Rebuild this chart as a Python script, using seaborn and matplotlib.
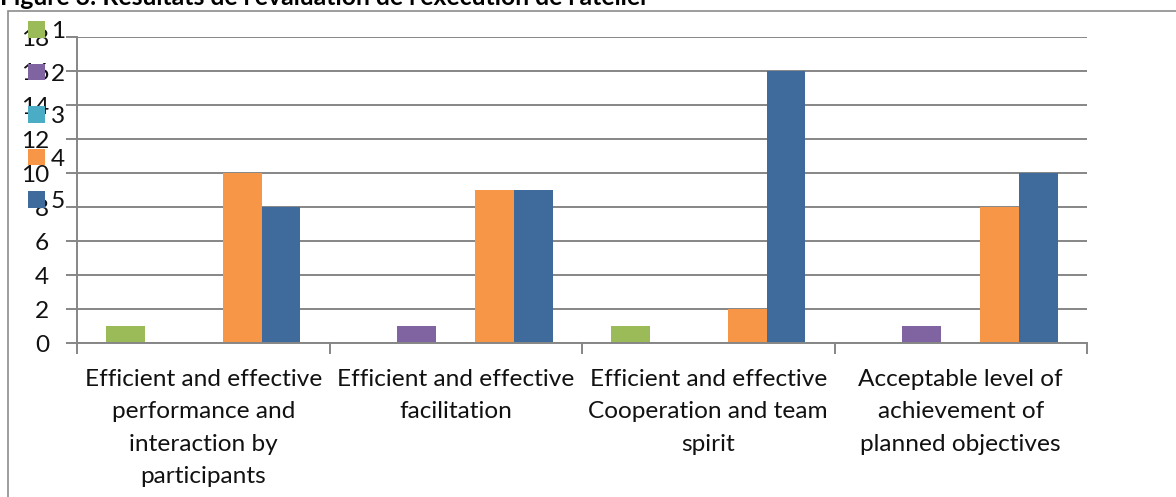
import matplotlib
matplotlib.use("Agg")
import matplotlib.pyplot as plt
import seaborn as sns
import pandas as pd
from matplotlib.patches import Patch, Rectangle

categories = [
    "Efficient and effective\nperformance and\ninteraction by\nparticipants",
    "Efficient and effective\nfacilitation",
    "Efficient and effective\nCooperation and team\nspirit",
    "Acceptable level of\nachievement of\nplanned objectives",
]
series_names = ["1", "2", "3", "4", "5"]
s1 = [1, 0, 1, 0]
s2 = [0, 1, 0, 1]
s3 = [0, 0, 0, 0]
s4 = [10, 9, 2, 8]
s5 = [8, 9, 16, 10]
colors = ["#9BBB59", "#8064A2", "#4BACC6", "#F79646", "#3E6A9C"]
title = "Figure 3: Résultats de l'évaluation de l'exécution de l'atelier"
yticks = [0, 2, 4, 6, 8, 10, 12, 14, 16, 18]

rows = []
for name, vals in zip(series_names, [s1, s2, s3, s4, s5]):
    for c, v in zip(categories, vals):
        rows.append({"cat": c, "series": name, "value": v})
df = pd.DataFrame(rows)

sns.set_theme(style="white")
plt.rcParams["font.family"] = ["Lato", "DejaVu Sans"]

W, H = 1176, 497
FS = 17.6
fig = plt.figure(figsize=(W / 100, H / 100), dpi=100)
ax = fig.add_axes([77 / W, 1 - 343 / H, (1087 - 77) / W, (343 - 37) / H])

sns.barplot(data=df, x="cat", y="value", hue="series", order=categories,
            hue_order=series_names, palette=colors, width=0.77,
            saturation=1, linewidth=0, ax=ax, legend=False)

grid_c = "#868686"
ax.set_ylim(0, 18)
ax.set_xlim(-0.5, 3.5)
ax.set_yticks(yticks)
ax.set_yticklabels([str(t) for t in yticks])
ax.yaxis.grid(True, color=grid_c, linewidth=1.4)
ax.set_axisbelow(True)
ax.set_xlabel("")
ax.set_ylabel("")

ax.set_xticks([-0.5, 0.5, 1.5, 2.5, 3.5])
ax.set_xticklabels([])
ax.set_xticks([0, 1, 2, 3], minor=True)
ax.set_xticklabels(categories, minor=True, fontsize=FS, linespacing=1.68, color="#111111")
ax.tick_params(axis="x", which="major", length=8, width=1.4, color=grid_c, direction="out", bottom=True)
ax.tick_params(axis="x", which="minor", length=0, pad=18.4, bottom=True)
ax.tick_params(axis="y", length=8, width=1.4, color=grid_c, direction="out", left=True,
               labelsize=FS, pad=12, labelcolor="#111111")

for s in ["top", "right"]:
    ax.spines[s].set_visible(False)
for s in ["left", "bottom"]:
    ax.spines[s].set_color(grid_c)
    ax.spines[s].set_linewidth(1.4)

# outer frame
fig.patches.append(Rectangle((8 / W, -0.05), 1.2, 1 - 11 / H + 0.05,
                             transform=fig.transFigure, fill=False,
                             edgecolor="#8C8C8C", linewidth=1.2))

fig.text(0.0, 1 - 5 / H, title, fontsize=17.8, fontweight="bold",
         va="baseline", ha="left", color="black")

handles = [Patch(facecolor=c, edgecolor="none", label=n) for c, n in zip(colors, series_names)]
leg = fig.legend(handles=handles, loc="upper left", bbox_to_anchor=(28 / W, 1 - 21 / H),
                 frameon=False, fontsize=FS, handlelength=0.68, handleheight=0.68,
                 handletextpad=0.25, labelspacing=0.88, borderpad=0, borderaxespad=0)
for t in leg.get_texts():
    t.set_color("#111111")

fig.savefig("out.png", dpi=100)
